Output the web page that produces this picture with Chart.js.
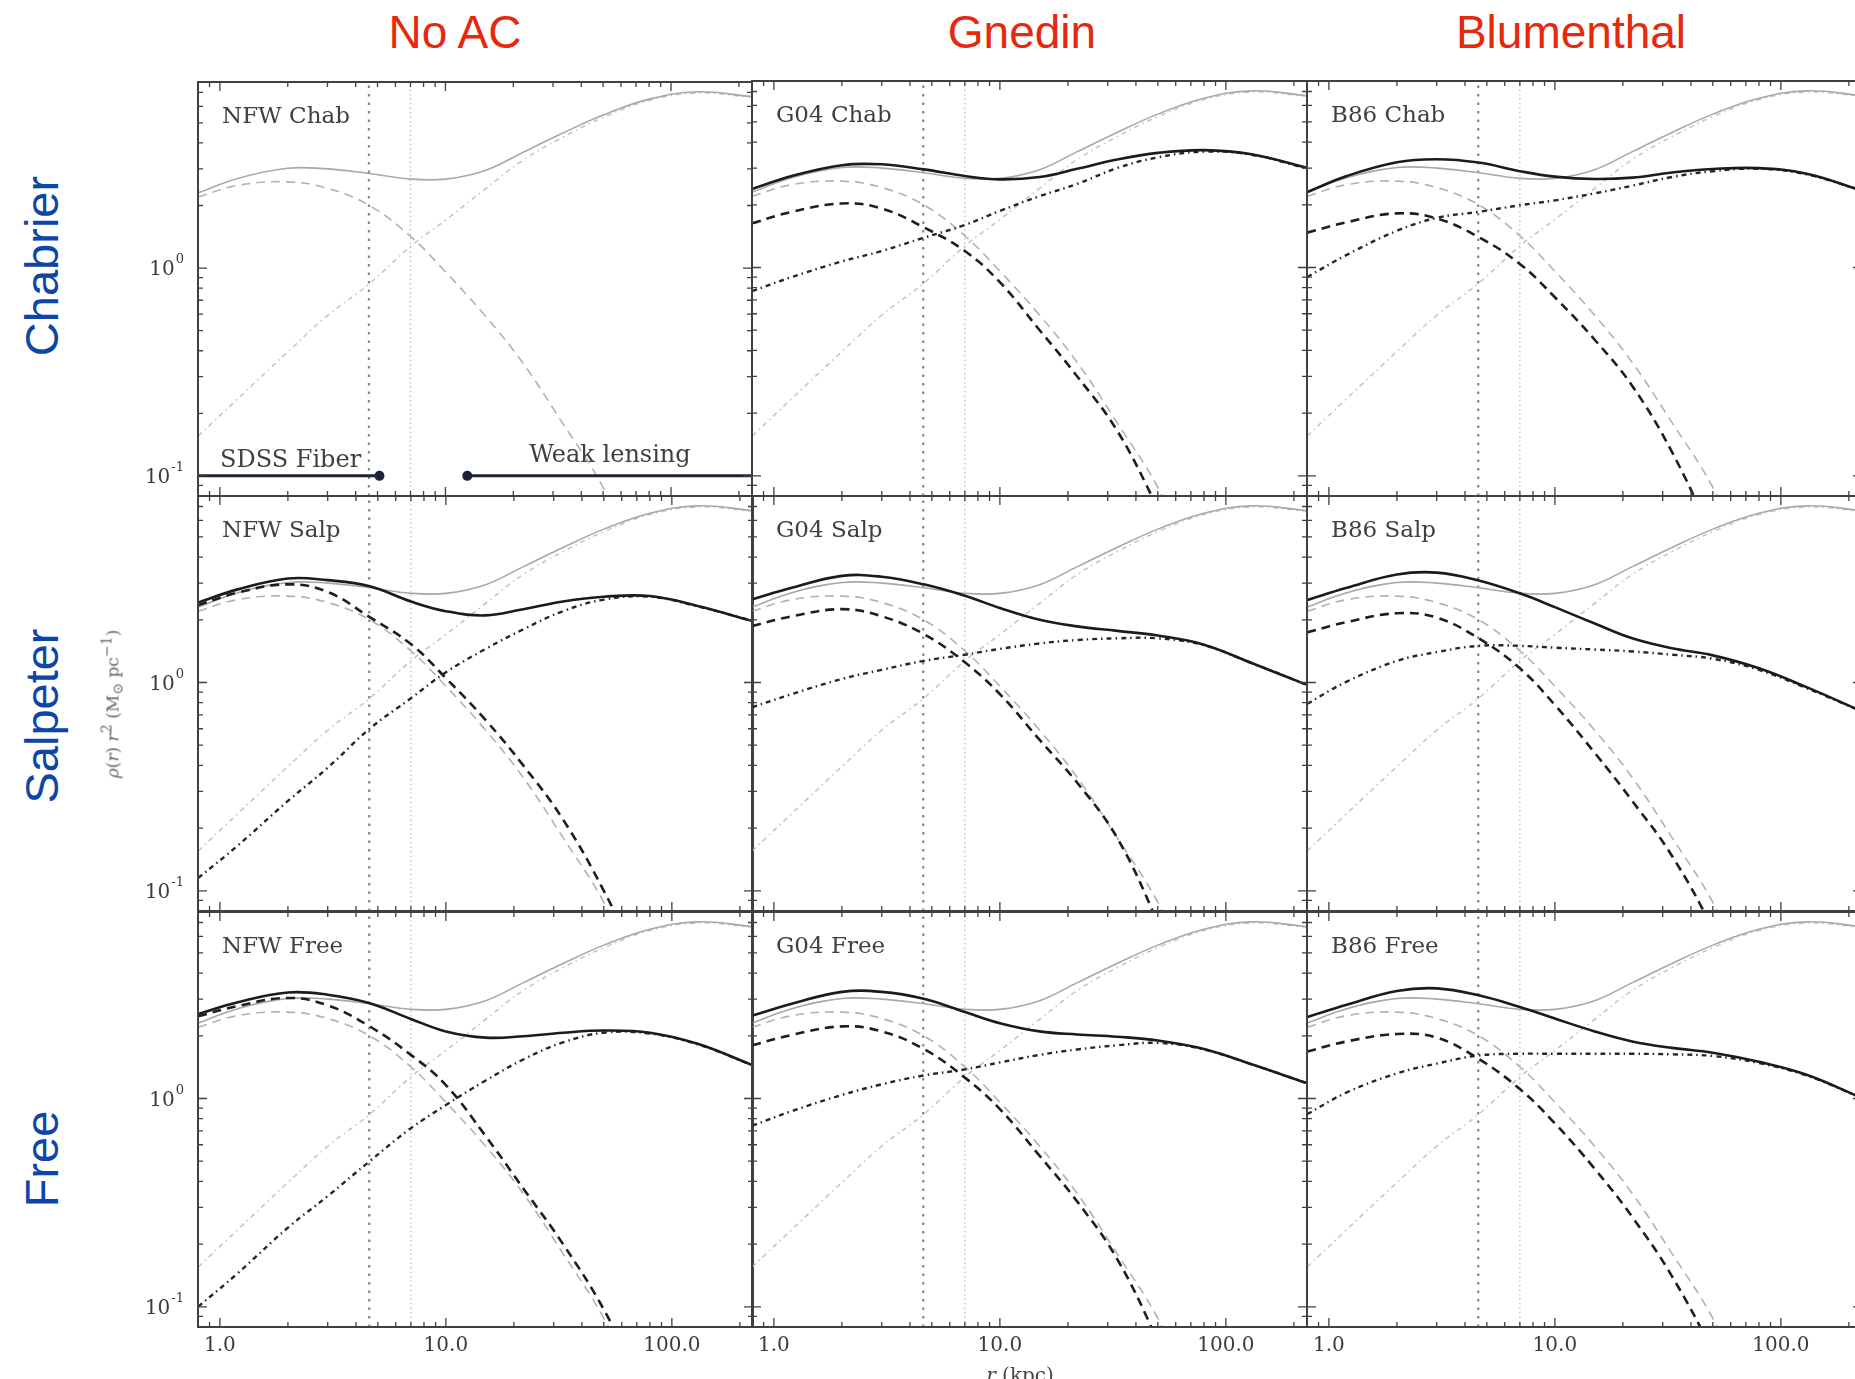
<!DOCTYPE html>
<html lang="en">
<head>
<meta charset="utf-8">
<title>Density profiles</title>
<script src="https://cdn.jsdelivr.net/npm/chart.js@4.4.1/dist/chart.umd.min.js"></script>
<style>
    html, body { margin: 0; padding: 0; background: #fff; }
    body { position: relative; width: 1855px; height: 1379px; overflow: hidden; }
    canvas { position: absolute; }
    .colTitle { position: absolute; transform: translate(-50%, -50%); font-family: "Liberation Sans", Arial, sans-serif; font-size: 46px; color: #e5290c; white-space: nowrap; }
    .rowTitle { position: absolute; transform: translate(-50%, -50%) rotate(-90deg); font-family: "Liberation Sans", Arial, sans-serif; font-size: 47px; color: #0d46a8; white-space: nowrap; }
    .axisLabel { position: absolute; font-family: "DejaVu Serif", serif; color: #666; white-space: nowrap; }
</style>
</head>
<body>
<script>
// --- Data ---
const radii = [0.8, 1.2, 2, 3, 4.6, 7, 10, 15, 22, 33, 50, 80, 130, 226];

// reference model (NFW, Chabrier) drawn in grey in every panel
const refTotal = [2.3, 2.7, 3.02, 3.0, 2.85, 2.68, 2.68, 2.95, 3.6, 4.45, 5.45, 6.5, 7.05, 6.7];
const refStars = [2.2, 2.5, 2.6, 2.42, 2.0, 1.42, 0.96, 0.59, 0.35, 0.18, 0.088, 0.03, null, null];
const refDM = [0.155, 0.235, 0.395, 0.59, 0.84, 1.27, 1.7, 2.4, 3.3, 4.25, 5.3, 6.4, 6.95, 6.65];

const g04ChabTotal = [2.38, 2.75, 3.1, 3.13, 2.96, 2.75, 2.65, 2.72, 2.98, 3.3, 3.55, 3.66, 3.5, 3.02];
const g04ChabStars = [1.63, 1.85, 2.03, 1.92, 1.56, 1.2, 0.85, 0.5, 0.3, 0.165, 0.07, 0.025, null, null];
const g04ChabDM = [0.77, 0.9, 1.07, 1.2, 1.39, 1.6, 1.87, 2.2, 2.52, 3.0, 3.38, 3.6, 3.48, 3.0];

const b86ChabTotal = [2.3, 2.75, 3.2, 3.31, 3.19, 2.9, 2.73, 2.66, 2.7, 2.86, 2.97, 3.0, 2.82, 2.35];
const b86ChabStars = [1.47, 1.65, 1.82, 1.72, 1.4, 1.04, 0.72, 0.45, 0.27, 0.13, 0.05, 0.015, null, null];
const b86ChabDM = [0.9, 1.15, 1.5, 1.73, 1.85, 1.99, 2.1, 2.27, 2.47, 2.72, 2.9, 2.98, 2.8, 2.35];

const nfwSalpTotal = [2.42, 2.8, 3.16, 3.1, 2.9, 2.45, 2.2, 2.1, 2.25, 2.45, 2.58, 2.6, 2.33, 1.98];
const nfwSalpStars = [2.35, 2.7, 2.96, 2.72, 2.06, 1.53, 1.05, 0.66, 0.4, 0.22, 0.1, 0.035, null, null];
const nfwSalpDM = [0.115, 0.165, 0.27, 0.39, 0.6, 0.84, 1.12, 1.45, 1.8, 2.2, 2.5, 2.58, 2.32, 1.98];

const g04SalpTotal = [2.51, 2.85, 3.25, 3.22, 2.96, 2.61, 2.28, 2.0, 1.86, 1.77, 1.68, 1.52, 1.24, 0.98];
const g04SalpStars = [1.87, 2.08, 2.25, 2.08, 1.71, 1.25, 0.88, 0.53, 0.33, 0.18, 0.07, 0.02, null, null];
const g04SalpDM = [0.76, 0.88, 1.04, 1.15, 1.27, 1.36, 1.45, 1.54, 1.6, 1.63, 1.63, 1.51, 1.24, 0.98];

const b86SalpTotal = [2.49, 2.85, 3.3, 3.37, 3.09, 2.68, 2.3, 1.92, 1.63, 1.46, 1.35, 1.17, 0.95, 0.73];
const b86SalpStars = [1.74, 1.95, 2.15, 2.05, 1.63, 1.17, 0.78, 0.46, 0.27, 0.147, 0.065, 0.02, null, null];
const b86SalpDM = [0.79, 1.01, 1.27, 1.4, 1.5, 1.5, 1.47, 1.44, 1.41, 1.36, 1.3, 1.15, 0.94, 0.73];

const nfwFreeTotal = [2.54, 2.9, 3.23, 3.15, 2.87, 2.41, 2.1, 1.96, 1.99, 2.07, 2.12, 2.07, 1.83, 1.45];
const nfwFreeStars = [2.48, 2.78, 3.04, 2.8, 2.22, 1.62, 1.16, 0.66, 0.37, 0.2, 0.097, 0.035, null, null];
const nfwFreeDM = [0.1, 0.145, 0.24, 0.34, 0.5, 0.72, 0.93, 1.22, 1.54, 1.86, 2.07, 2.05, 1.82, 1.45];

const g04FreeTotal = [2.5, 2.85, 3.25, 3.25, 3.01, 2.6, 2.3, 2.1, 2.03, 1.98, 1.9, 1.73, 1.46, 1.19];
const g04FreeStars = [1.8, 2.02, 2.22, 2.1, 1.73, 1.26, 0.89, 0.53, 0.32, 0.17, 0.068, 0.02, null, null];
const g04FreeDM = [0.74, 0.87, 1.04, 1.17, 1.29, 1.38, 1.49, 1.62, 1.72, 1.8, 1.85, 1.72, 1.46, 1.19];

const b86FreeTotal = [2.46, 2.82, 3.28, 3.38, 3.13, 2.75, 2.42, 2.1, 1.88, 1.75, 1.66, 1.5, 1.3, 1.01];
const b86FreeStars = [1.68, 1.88, 2.04, 1.96, 1.55, 1.11, 0.76, 0.46, 0.27, 0.14, 0.06, 0.018, null, null];
const b86FreeDM = [0.84, 1.07, 1.32, 1.47, 1.61, 1.64, 1.64, 1.64, 1.64, 1.63, 1.6, 1.48, 1.29, 1.01];

// titles, labels, ticks
const columnTitles = ['No AC', 'Gnedin', 'Blumenthal'];
const rowTitles = ['Chabrier', 'Salpeter', 'Free'];
const panelLabels = [
    ['NFW Chab', 'G04 Chab', 'B86 Chab'],
    ['NFW Salp', 'G04 Salp', 'B86 Salp'],
    ['NFW Free', 'G04 Free', 'B86 Free']
];
const xTickValues = [1, 10, 100];
const xTickLabels = ['1.0', '10.0', '100.0'];
const yTickValues = [1, 0.1];
const yTickExponents = ['0', '-1'];

// vertical guide radii and the two data ranges of the first panel
const guideRadii = [4.58, 7.0];
const fiberRange = [0.8, 5.1];
const lensingRange = [12.5, 228.6];
const probeLevel = 0.1;
const probeNotes = ['SDSS Fiber', 'Weak lensing'];

// --- Layout ---
const X_MIN = 0.8, X_MAX = 228.6, Y_MIN = 0.08, Y_MAX = 7.86;
const colLeft = [198, 752, 1307];
const rowTop = [81, 496, 912];
const PANEL_W = 555, PANEL_H = 415;
const PAD = { left: 80, right: 6, top: 6, bottom: 50 };

const LINE = {
    total: { borderColor: '#1b1b1b', borderWidth: 2.6, borderDash: [] },
    stars: { borderColor: '#1e1e1e', borderWidth: 2.6, borderDash: [9, 6] },
    dm: { borderColor: '#262626', borderWidth: 2.4, borderDash: [5, 4, 1.5, 4] },
    refTotal: { borderColor: '#a8a8a8', borderWidth: 1.6, borderDash: [] },
    refStars: { borderColor: '#b2b2b2', borderWidth: 1.6, borderDash: [9, 6] },
    refDM: { borderColor: '#c3c3c3', borderWidth: 1.5, borderDash: [5, 4, 1.5, 4] },
    guideA: { borderColor: '#878787', borderWidth: 2.2, borderDash: [2.5, 6] },
    guideB: { borderColor: '#b8b8b8', borderWidth: 1.2, borderDash: [1.5, 3] }
};

/**
 * Log-scale tick positions (1..9 x 10^n) inside a range
 */
function logTicks(min, max) {
    const out = [];
    for (let e = Math.floor(Math.log10(min)); e <= Math.ceil(Math.log10(max)); e++) {
        for (let m = 1; m <= 9; m++) {
            const v = m * Math.pow(10, e);
            if (v >= min * 0.999 && v <= max * 1.001) out.push({ v, major: m === 1 });
        }
    }
    return out;
}

function series(ys) {
    return radii.map((r, i) => ({ x: r, y: ys[i] }));
}

function curve(ys, style) {
    return Object.assign({ data: series(ys), pointRadius: 0, fill: false, tension: 0.4 }, style);
}

// frame, inward ticks, labels
const panelDecor = {
    id: 'panelDecor',
    afterDatasetsDraw(chart, args, opts) {
        const { ctx, chartArea: a, scales: { x, y } } = chart;
        ctx.save();

        ctx.strokeStyle = '#404040';
        ctx.lineWidth = 1.3;
        ctx.setLineDash([]);
        ctx.beginPath();
        logTicks(X_MIN, X_MAX).forEach(t => {
            const px = x.getPixelForValue(t.v), len = t.major ? 9 : 5;
            ctx.moveTo(px, a.bottom); ctx.lineTo(px, a.bottom - len);
            ctx.moveTo(px, a.top); ctx.lineTo(px, a.top + len);
        });
        logTicks(Y_MIN, Y_MAX).forEach(t => {
            const py = y.getPixelForValue(t.v), len = t.major ? 9 : 5;
            ctx.moveTo(a.left, py); ctx.lineTo(a.left + len, py);
            ctx.moveTo(a.right, py); ctx.lineTo(a.right - len, py);
        });
        ctx.stroke();

        ctx.lineWidth = 2;
        ctx.strokeRect(a.left, a.top, a.right - a.left, a.bottom - a.top);

        ctx.fillStyle = '#404040';
        ctx.font = '23px "DejaVu Serif"';
        ctx.textAlign = 'left';
        ctx.textBaseline = 'alphabetic';
        ctx.fillText(opts.label, a.left + 24, a.top + 41);

        if (opts.notes) {
            ctx.font = '24px "DejaVu Serif"';
            ctx.fillText(probeNotes[0], a.left + 22, y.getPixelForValue(probeLevel) - 9);
            ctx.fillText(probeNotes[1], x.getPixelForValue(23.5), y.getPixelForValue(probeLevel) - 14);
        }

        ctx.fillStyle = '#3a3a3a';
        if (opts.showX) {
            ctx.font = '20px "DejaVu Serif"';
            ctx.textAlign = 'center';
            ctx.textBaseline = 'middle';
            xTickValues.forEach((v, i) => {
                ctx.fillText(xTickLabels[i], x.getPixelForValue(v), a.bottom + 19);
            });
        }
        if (opts.showY) {
            ctx.textAlign = 'left';
            ctx.textBaseline = 'middle';
            yTickValues.forEach((v, i) => {
                const py = y.getPixelForValue(v);
                const xr = a.left - 14;
                ctx.font = '13px "DejaVu Serif"';
                const ew = ctx.measureText(yTickExponents[i]).width;
                ctx.fillText(yTickExponents[i], xr - ew, py - 8);
                ctx.font = '20px "DejaVu Serif"';
                const bw = ctx.measureText('10').width;
                ctx.fillText('10', xr - ew - bw - 1, py + 2);
            });
        }
        ctx.restore();
    }
};

const models = [
    [null, [g04ChabTotal, g04ChabStars, g04ChabDM], [b86ChabTotal, b86ChabStars, b86ChabDM]],
    [[nfwSalpTotal, nfwSalpStars, nfwSalpDM], [g04SalpTotal, g04SalpStars, g04SalpDM], [b86SalpTotal, b86SalpStars, b86SalpDM]],
    [[nfwFreeTotal, nfwFreeStars, nfwFreeDM], [g04FreeTotal, g04FreeStars, g04FreeDM], [b86FreeTotal, b86FreeStars, b86FreeDM]]
];

function addText(cls, text, left, top, size) {
    const d = document.createElement('div');
    d.className = cls;
    d.innerHTML = text;
    d.style.left = left + 'px';
    d.style.top = top + 'px';
    if (size) d.style.fontSize = size + 'px';
    document.body.appendChild(d);
    return d;
}

function renderPanel(row, col) {
    const w = PANEL_W + PAD.left + PAD.right, h = PANEL_H + PAD.top + PAD.bottom;
    const canvas = document.createElement('canvas');
    canvas.width = w; canvas.height = h;
    canvas.style.width = w + 'px'; canvas.style.height = h + 'px';
    canvas.style.left = (colLeft[col] - PAD.left) + 'px';
    canvas.style.top = (rowTop[row] - PAD.top) + 'px';
    document.body.appendChild(canvas);

    const datasets = [];
    // the first panel carries the two measured ranges
    if (row === 0 && col === 0) {
        datasets.push({ data: fiberRange.map(r => ({ x: r, y: probeLevel })), borderColor: '#1d2238', backgroundColor: '#1d2238', borderWidth: 3, pointRadius: [0, 3.5] });
        datasets.push({ data: lensingRange.map(r => ({ x: r, y: probeLevel })), borderColor: '#1d2238', backgroundColor: '#1d2238', borderWidth: 3, pointRadius: [3.5, 0] });
    }
    const m = models[row][col];
    if (m) {
        datasets.push(curve(m[0], LINE.total), curve(m[1], LINE.stars), curve(m[2], LINE.dm));
    }
    datasets.push(curve(refTotal, LINE.refTotal), curve(refStars, LINE.refStars), curve(refDM, LINE.refDM));
    datasets.push(Object.assign({ data: [{ x: guideRadii[0], y: Y_MIN }, { x: guideRadii[0], y: Y_MAX }], pointRadius: 0 }, LINE.guideA));
    datasets.push(Object.assign({ data: [{ x: guideRadii[1], y: Y_MIN }, { x: guideRadii[1], y: Y_MAX }], pointRadius: 0 }, LINE.guideB));

    new Chart(canvas, {
        type: 'line',
        data: { datasets },
        options: {
            responsive: false,
            animation: false,
            devicePixelRatio: 1,
            layout: { padding: PAD },
            scales: {
                x: { type: 'logarithmic', min: X_MIN, max: X_MAX, display: false },
                y: { type: 'logarithmic', min: Y_MIN, max: Y_MAX, display: false }
            },
            plugins: {
                legend: { display: false },
                tooltip: { enabled: false },
                panelDecor: { label: panelLabels[row][col], showX: row === 2, showY: col === 0, notes: row === 0 && col === 0 }
            }
        },
        plugins: [panelDecor]
    });
}

document.addEventListener('DOMContentLoaded', () => {
    for (let r = 0; r < 3; r++) {
        for (let c = 0; c < 3; c++) renderPanel(r, c);
    }

    // --- Outer titles ---
    [455, 1022, 1571].forEach((cx, i) => addText('colTitle', columnTitles[i], cx, 32));
    [266, 716, 1159].forEach((cy, i) => addText('rowTitle', rowTitles[i], 41, cy));

    const yl = addText('axisLabel', '<i>&rho;</i>(<i>r</i>) <i>r</i><sup>2</sup> (M<sub>&#8857;</sub> pc<sup>&minus;1</sup>)', 112, 704, 17);
    yl.style.transform = 'translate(-50%, -50%) rotate(-90deg)';
    const xl = addText('axisLabel', '<i>r</i> (kpc)', 1020, 1375, 20);
    xl.style.transform = 'translate(-50%, -50%)';
    xl.style.color = '#444';
});
</script>
</body>
</html>
